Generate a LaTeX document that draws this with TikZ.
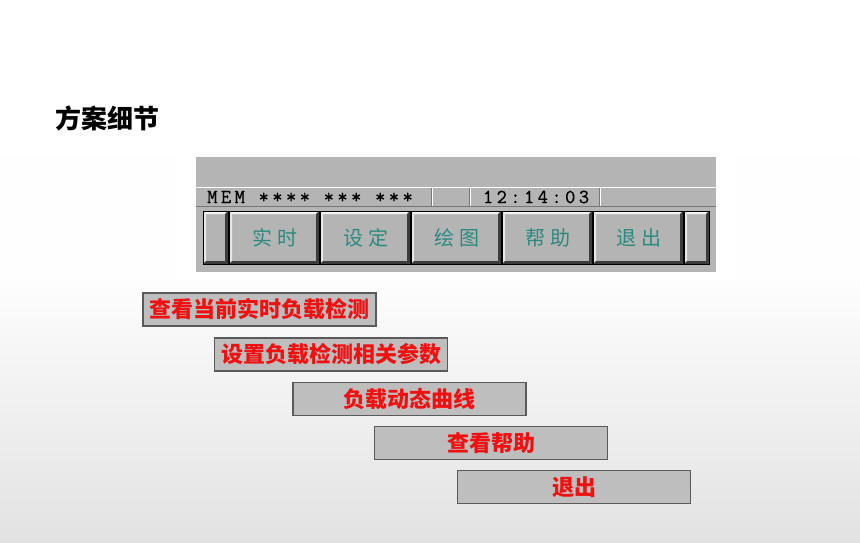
\documentclass[tikz,border=0pt]{standalone}
\usepackage{fontspec}
\newfontfamily\cjk{Noto Sans CJK SC}
\newfontfamily\keyfont[LetterSpace=25]{Noto Sans CJK SC}
\newfontfamily\lcdfont[LetterSpace=17,FakeBold=0.6]{Latin Modern Mono}
\definecolor{panelgray}{HTML}{B4B4B4}
\definecolor{keydark}{HTML}{3C3C3C}
\definecolor{keylight}{HTML}{F4F4F4}
\definecolor{keyteal}{HTML}{2A8A80}
\definecolor{boxgray}{HTML}{BEBEBE}
\definecolor{boxedge}{HTML}{5A5A5A}
\definecolor{menured}{HTML}{F01010}
\definecolor{bggray}{HTML}{E2E2E2}

\newcommand{\keycap}[2]{%
  \fill[panelgray] (#1,211) rectangle (#2,264);
  \fill[keylight] (#1,211) -- (#2,211) -- (#2-3,214) -- (#1+3,214) -- cycle;
  \fill[keylight!80!panelgray] (#1,211) -- (#1+3,214) -- (#1+3,261) -- (#1,264) -- cycle;
  \fill[keydark] (#1,264) -- (#2,264) -- (#2-3,261) -- (#1+3,261) -- cycle;
  \fill[keydark] (#2,211) -- (#2,264) -- (#2-3,261) -- (#2-3,214) -- cycle;
  \draw[black, line width=0.8pt] (#1,211) rectangle (#2,264);
}

\tikzset{
  menubox/.style={draw=boxedge, fill=boxgray, line width=1.2pt, minimum width=233pt,
    minimum height=33pt, inner sep=0pt, text=menured,
    font=\cjk\bfseries\fontsize{22}{22}\selectfont},
  keylabel/.style={inner sep=0pt, text=keyteal, font=\keyfont\fontsize{20}{20}\selectfont},
  lcdtext/.style={inner sep=0pt, font=\lcdfont\fontsize{20}{20}\selectfont}
}

\begin{document}
\begin{tikzpicture}[x=1pt,y=-1pt]
\useasboundingbox (0,0) rectangle (860,543);
\shade[top color=white, bottom color=bggray, middle color=white!97!bggray] (0,0) rectangle (860,543);

\node[inner sep=0pt, font=\cjk\bfseries\fontsize{26}{26}\selectfont] (title) at (107,118) {方案细节};

\fill[white] (178,154) rectangle (735,279);
\fill[panelgray] (196,157) rectangle (716,272);
\draw[white, line width=1.5pt] (196,187.5) -- (716,187.5);
\draw[keydark!70, line width=1pt] (196,206) -- (716,206);
\foreach \s in {431,469,599} {
  \draw[keydark!70] (\s,188) -- (\s,206);
  \draw[white] (\s+1.2,188) -- (\s+1.2,206);
}
\node[lcdtext, anchor=west] (mem) at (207,197) {MEM **** *** ***};
\node[lcdtext] (clock) at (536,197) {12:14:03};

\foreach \a/\b in {203/228,229/319,320/410,411/501,502/592,593/683,684/709}
  \keycap{\a}{\b};
\foreach \t [count=\i] in {实时,设定,绘图,帮助,退出}
  \node[keylabel] (key\i) at (184+91*\i,238) {\t};

\node[menubox] (live) at (259.5,309.5) {查看当前实时负载检测};
\node[menubox] (setup) at (331,354.5) {设置负载检测相关参数};
\node[menubox] (curve) at (409.5,399) {负载动态曲线};
\node[menubox] (help) at (491,443) {查看帮助};
\node[menubox] (quit) at (574,487) {退出};
\end{tikzpicture}
\end{document}
